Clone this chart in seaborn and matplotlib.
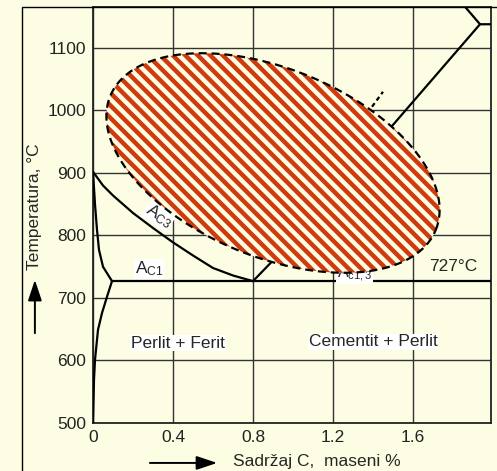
import matplotlib
matplotlib.use("Agg")
import matplotlib.pyplot as plt
import numpy as np
import pandas as pd
import seaborn as sns
from matplotlib.patches import Rectangle, Polygon

# phase boundaries: carbon (wt %) and temperature (°C)
ac3_c = [0.0, 0.05, 0.1, 0.15, 0.2, 0.3, 0.4, 0.5, 0.6, 0.7, 0.8]
ac3_t = [902, 880, 864, 850, 836, 812, 789, 768, 748, 736, 727]

alpha_top_c = [0.0, 0.01, 0.02, 0.03, 0.05, 0.095]
alpha_top_t = [902, 850, 809, 777, 750, 727]

alpha_low_c = [0.095, 0.07, 0.045, 0.025, 0.01, 0.005, 0.0]
alpha_low_t = [727, 702, 676, 649, 601, 569, 500]

eutectoid_c = [0.095, 1.99]
eutectoid_t = [727, 727]

acm_c = [0.8, 0.9, 1.0, 1.2, 1.5, 1.935]
acm_t = [727, 760, 796, 868, 977, 1138]

top_c = [1.86, 1.935, 1.99]
top_t = [1166, 1138, 1138]

dash_c = [1.395, 1.45]
dash_t = [1006, 1030]

x_ticks = [0, 0.4, 0.8, 1.2, 1.6]
x_labels = ["0", "0.4", "0.8", "1.2", "1.6"]
y_ticks = [500, 600, 700, 800, 900, 1000, 1100]

BG = "#fdfde4"
RED = "#cf3a0e"

sns.set_theme(style="white", rc={"figure.facecolor": BG, "axes.facecolor": BG})
plt.rcParams["font.family"] = ["Liberation Sans", "DejaVu Sans"]
plt.rcParams["mathtext.fontset"] = "custom"
plt.rcParams["mathtext.rm"] = "Liberation Sans"
plt.rcParams["mathtext.it"] = "Liberation Sans"

fig = plt.figure(figsize=(4.97, 4.71), dpi=100)
ax = fig.add_axes([93 / 497, 48 / 471, 398 / 497, 416 / 471])
xlim = (0, 1.99)
ylim = (500, 1165.6)
ax.set_xlim(*xlim)
ax.set_ylim(*ylim)

# outer frame
fig.add_artist(Rectangle((22 / 497, -0.2), 1.2, 0.2 + 464 / 471, transform=fig.transFigure,
                         fill=False, edgecolor="black", lw=1.0, clip_on=False))

lw = 1.6
for cx, ty in [(ac3_c, ac3_t), (alpha_top_c, alpha_top_t), (alpha_low_c, alpha_low_t),
               (eutectoid_c, eutectoid_t), (acm_c, acm_t), (top_c, top_t)]:
    sns.lineplot(x=cx, y=ty, sort=False, color="black", lw=lw, ax=ax, zorder=3, estimator=None)
sns.lineplot(x=dash_c, y=dash_t, sort=False, color="black", lw=1.6, ax=ax, zorder=3,
             estimator=None, linestyle=(0, (2, 1.5)))

# labels
box = dict(facecolor="white", edgecolor="none", pad=0.5)
fs = 12.5
ax.text(0.425, 628, "Perlit + Ferit", fontsize=fs, ha="center", va="center", bbox=box, zorder=4)
ax.text(1.4, 630, "Cementit + Perlit", fontsize=fs, ha="center", va="center", bbox=box, zorder=4)
ax.text(1.8, 750, "727°C", fontsize=fs, ha="center", va="center", zorder=4)
ax.text(0.21, 747, r"$\mathrm{A_{C1}}$", fontsize=fs, ha="left", va="center", bbox=box, zorder=4)
ax.text(0.33, 832, r"$\mathrm{A_{C3}}$", fontsize=fs, ha="center", va="center", bbox=box,
        rotation=-33, zorder=4)
ax.text(1.22, 739, r"$\mathrm{A_{c1,3}}$", fontsize=fs - 1, ha="left", va="center", bbox=box, zorder=4)

# hatched ellipse, shape defined in screen pixels so it keeps its look
px_x = 398 / (xlim[1] - xlim[0])
px_t = 416 / (ylim[1] - ylim[0])
ell_c, ell_t = 0.9, 916
a_px, b_px, ang = 176, 94, np.deg2rad(-22.4)
t = np.linspace(0, 2 * np.pi, 300)
ex = a_px * np.cos(t) * np.cos(ang) - b_px * np.sin(t) * np.sin(ang)
ey = a_px * np.cos(t) * np.sin(ang) + b_px * np.sin(t) * np.cos(ang)
ell_xy = np.column_stack([ell_c + ex / px_x, ell_t + ey / px_t])
fill = Polygon(ell_xy, closed=True, facecolor=BG, edgecolor="none", zorder=5)
ax.add_patch(fill)
u = np.array([-260, 260])
for c in np.arange(-330, 330, 12.5):
    line, = ax.plot(ell_c + u / px_x, ell_t + (-u + c) / px_t, color=RED, lw=3.2,
                    solid_capstyle="butt", zorder=6)
    line.set_clip_path(fill)
ax.plot(ell_xy[:, 0], ell_xy[:, 1], color="black", lw=1.6, linestyle=(0, (3.6, 2.2)), zorder=7)

# axes styling
ax.set_xticks(x_ticks, x_labels)
ax.set_yticks(y_ticks)
ax.grid(True, color="#333333", lw=1.0, zorder=1)
ax.set_axisbelow(True)
ax.tick_params(length=0, labelsize=fs, pad=5, colors="#222222")
for s in ax.spines.values():
    s.set_color("#222222")
    s.set_linewidth(1.3)

ax.set_xlabel("Sadržaj C,  maseni %", fontsize=fs, va="center")
ax.xaxis.set_label_coords(0.563, -0.092)
ax.set_ylabel("Temperatura, °C", fontsize=fs, va="center")
ax.yaxis.set_label_coords(-0.146, 0.519)

arrow = dict(arrowstyle="-|>,head_length=0.9,head_width=0.3", color="black", lw=1.4,
             mutation_scale=14, shrinkA=0, shrinkB=0)
ax.annotate("", xy=(-0.146, 0.344), xytext=(-0.146, 0.216), xycoords="axes fraction",
            textcoords="axes fraction", arrowprops=arrow, annotation_clip=False)
ax.annotate("", xy=(0.312, -0.096), xytext=(0.143, -0.096), xycoords="axes fraction",
            textcoords="axes fraction", arrowprops=arrow, annotation_clip=False)

fig.savefig("out.png", dpi=100, facecolor=BG)
